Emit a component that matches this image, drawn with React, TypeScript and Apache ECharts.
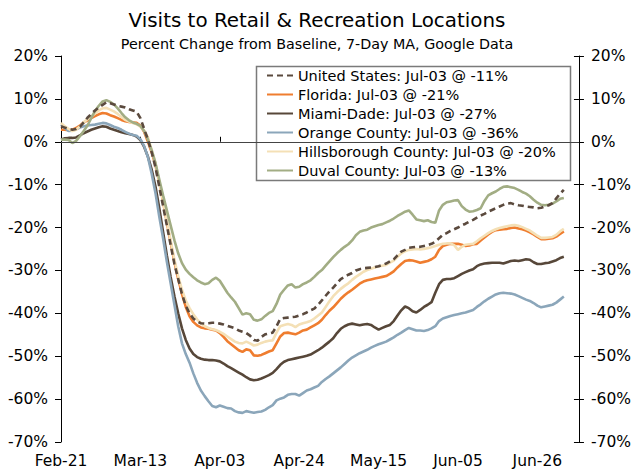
import React, { useEffect, useRef } from "react";
import * as echarts from "echarts";

const START = Date.UTC(2020, 1, 21);
const N_CATEGORIES = 138;
const MONTHS = ["Jan", "Feb", "Mar", "Apr", "May", "Jun", "Jul", "Aug", "Sep", "Oct", "Nov", "Dec"];
const categories: string[] = Array.from({ length: N_CATEGORIES }, (_, i) => {
  const d = new Date(START + i * 86400000);
  return `${MONTHS[d.getUTCMonth()]}-${String(d.getUTCDate()).padStart(2, "0")}`;
});

const unitedStates = [3.6,3.3,3.0,2.8,3.0,3.5,4.5,5.6,6.5,7.3,
 8.0,8.6,9.2,9.0,8.7,8.4,8.2,8.0,7.6,7.3,
 7.0,5.5,3.0,0.5,-2.5,-6.0,-10.5,-15.0,-19.5,-24.0,
 -28.5,-32.0,-35.5,-38.2,-40.0,-41.2,-41.9,-42.3,-42.4,-42.3,
 -42.2,-42.2,-42.4,-42.6,-42.9,-43.2,-43.5,-44.0,-44.3,-44.6,
 -45.2,-46.2,-46.4,-45.5,-44.9,-44.7,-44.5,-43.0,-41.3,-41.1,
 -41.0,-40.9,-40.8,-40.5,-40.2,-39.8,-39.3,-38.9,-38.0,-37.0,
 -35.9,-34.9,-34.0,-33.0,-32.0,-31.5,-31.0,-30.6,-30.0,-29.7,
 -29.5,-29.4,-29.3,-29.2,-29.0,-28.7,-28.4,-27.9,-27.4,-26.5,
 -25.6,-25.2,-24.7,-24.6,-24.5,-24.5,-24.3,-24.1,-23.8,-23.3,
 -22.5,-21.7,-21.3,-20.8,-20.4,-20.0,-19.5,-19.1,-18.6,-18.2,
 -17.7,-17.2,-16.8,-16.3,-15.9,-15.5,-15.1,-14.7,-14.4,-14.3,
 -14.6,-14.8,-14.9,-15.1,-15.2,-15.3,-15.5,-15.4,-15.1,-14.8,
 -14.3,-13.2,-12.1,-11.2];

const florida = [2.8,2.8,2.7,2.8,3.2,3.8,4.5,5.0,5.5,6.0,
 6.4,6.7,6.6,6.2,5.9,5.5,5.1,4.8,4.6,4.5,
 4.4,3.8,2.3,0.0,-2.5,-5.5,-9.5,-14.0,-18.8,-23.5,
 -28.0,-32.0,-35.5,-38.5,-40.7,-42.0,-42.8,-43.3,-43.5,-43.6,
 -43.8,-44.0,-44.6,-45.5,-46.5,-47.2,-47.9,-48.6,-49.0,-48.4,
 -48.6,-49.8,-49.9,-49.7,-49.3,-48.9,-48.6,-47.0,-45.4,-44.6,
 -44.5,-44.7,-44.9,-44.5,-44.0,-43.8,-43.3,-42.8,-42.3,-41.5,
 -40.4,-39.4,-38.6,-37.6,-36.6,-35.8,-35.1,-34.5,-33.8,-33.1,
 -32.6,-32.3,-32.1,-31.9,-31.7,-31.5,-31.3,-30.8,-30.2,-29.3,
 -28.5,-27.8,-27.6,-27.7,-27.9,-28.2,-28.0,-27.8,-27.4,-26.8,
 -25.2,-24.3,-24.0,-23.8,-23.8,-23.8,-24.0,-24.3,-24.2,-23.9,
 -23.8,-23.0,-22.3,-21.6,-21.0,-20.6,-20.5,-20.4,-20.3,-20.1,
 -20.0,-20.2,-20.4,-20.7,-21.1,-21.6,-22.2,-22.7,-22.7,-22.6,
 -22.5,-22.1,-21.5,-20.9];

const miamiDade = [0.5,0.8,0.9,0.9,1.0,1.5,2.0,2.4,2.8,3.1,
 3.4,3.6,3.5,3.1,2.8,2.5,2.2,2.0,1.8,1.6,
 1.2,0.4,-1.2,-3.5,-6.5,-10.5,-15.5,-21.0,-26.5,-31.5,
 -36.0,-40.0,-43.5,-46.2,-48.2,-49.5,-50.2,-50.6,-50.8,-50.9,
 -50.9,-51.0,-51.2,-51.7,-52.3,-52.8,-53.3,-53.8,-54.3,-54.9,
 -55.4,-55.6,-55.5,-55.2,-54.8,-54.4,-53.9,-53.0,-52.0,-51.3,
 -50.9,-50.7,-50.5,-50.3,-50.1,-49.9,-49.6,-49.1,-48.6,-48.0,
 -47.3,-46.6,-45.8,-44.6,-43.6,-43.0,-42.6,-42.4,-42.6,-42.8,
 -42.6,-42.5,-42.7,-43.3,-43.8,-43.4,-43.0,-42.7,-41.8,-40.5,
 -39.3,-38.4,-38.8,-39.5,-39.8,-39.2,-38.5,-38.0,-37.4,-35.2,
 -33.2,-32.2,-32.0,-32.0,-31.8,-31.3,-30.8,-30.4,-30.0,-29.7,
 -29.0,-28.6,-28.4,-28.3,-28.2,-28.2,-28.2,-28.4,-28.1,-27.8,
 -27.7,-27.8,-27.6,-27.4,-27.5,-28.1,-28.5,-28.5,-28.3,-28.2,
 -27.9,-27.6,-27.1,-26.8];

const orangeCounty = [4.0,3.2,2.5,2.6,2.9,3.3,3.6,3.8,3.9,4.0,
 4.2,4.4,4.3,3.9,3.5,3.2,2.8,2.3,1.9,1.6,
 1.4,0.6,-1.0,-3.6,-7.5,-12.0,-17.5,-22.5,-28.0,-33.0,
 -38.0,-43.0,-47.0,-49.5,-51.5,-54.0,-56.2,-58.0,-59.3,-60.5,
 -61.6,-61.9,-61.5,-61.8,-62.1,-62.2,-62.8,-63.1,-63.2,-62.8,
 -63.0,-63.2,-63.0,-62.9,-62.5,-61.9,-61.4,-60.3,-59.9,-59.6,
 -59.0,-58.8,-58.8,-59.2,-58.6,-58.0,-57.7,-57.3,-56.9,-56.0,
 -55.3,-54.7,-54.0,-53.3,-52.6,-51.8,-51.0,-50.3,-49.8,-49.3,
 -48.9,-48.5,-48.0,-47.6,-47.2,-46.9,-46.6,-46.1,-45.6,-45.0,
 -44.5,-43.9,-43.4,-43.7,-44.0,-44.0,-44.1,-43.9,-43.5,-43.0,
 -41.8,-41.2,-40.9,-40.6,-40.4,-40.2,-40.0,-39.8,-39.5,-39.2,
 -38.5,-37.9,-37.2,-36.6,-36.1,-35.6,-35.3,-35.2,-35.3,-35.4,
 -35.6,-36.0,-36.4,-36.8,-37.1,-37.6,-38.2,-38.6,-38.4,-38.2,
 -38.0,-37.5,-36.8,-36.1];

const hillsborough = [4.4,3.6,3.0,2.5,2.8,3.6,4.5,5.3,5.9,6.6,
 7.3,7.8,7.9,7.5,7.1,6.5,5.8,5.1,4.7,4.4,
 4.1,3.5,2.6,1.0,-2.0,-5.0,-9.5,-13.8,-18.5,-23.0,
 -27.5,-31.3,-34.5,-37.0,-38.8,-40.2,-41.4,-42.3,-43.0,-43.4,
 -43.7,-43.9,-44.3,-44.8,-45.4,-46.0,-46.6,-46.9,-47.0,-46.6,
 -47.0,-47.5,-47.3,-46.9,-46.6,-46.4,-46.3,-44.5,-43.0,-42.7,
 -42.5,-42.7,-43.2,-42.6,-42.3,-42.1,-41.8,-41.2,-40.5,-39.8,
 -38.5,-37.2,-36.0,-35.1,-34.3,-33.6,-33.0,-32.2,-31.5,-30.9,
 -30.3,-29.9,-29.6,-29.3,-29.1,-28.9,-28.7,-28.2,-27.7,-26.8,
 -26.0,-25.5,-25.2,-25.1,-25.0,-25.1,-25.0,-24.8,-24.6,-24.3,
 -24.0,-23.8,-23.7,-23.7,-24.1,-25.2,-24.5,-24.0,-23.9,-23.8,
 -23.2,-22.5,-21.9,-21.3,-20.8,-20.4,-20.1,-19.9,-19.7,-19.5,
 -19.4,-19.6,-19.9,-20.3,-20.7,-21.3,-21.9,-22.4,-22.4,-22.3,
 -22.2,-21.7,-20.9,-20.3];

const duval = [0.5,0.5,0.4,-0.3,0.2,1.3,2.5,3.8,5.5,7.2,
 8.4,9.4,9.7,9.3,8.7,7.8,6.7,5.7,5.0,4.5,
 4.2,3.7,2.5,0.5,-2.0,-5.0,-8.8,-12.5,-16.0,-19.5,
 -23.0,-26.0,-28.3,-29.8,-30.8,-31.6,-32.3,-32.8,-33.2,-33.0,
 -32.2,-31.7,-32.4,-33.8,-35.2,-36.3,-37.3,-38.8,-40.3,-40.0,
 -40.2,-41.5,-41.7,-41.4,-40.6,-39.9,-39.5,-37.8,-35.6,-34.5,
 -33.5,-33.2,-34.0,-33.8,-33.2,-32.8,-32.3,-31.5,-30.6,-29.9,
 -28.9,-27.9,-26.9,-26.0,-25.2,-24.5,-23.9,-23.0,-21.8,-21.0,
 -20.7,-20.5,-20.0,-19.7,-19.4,-19.2,-18.8,-18.4,-17.9,-17.3,
 -16.8,-16.3,-16.0,-17.0,-18.1,-18.3,-18.5,-18.3,-18.7,-18.9,
 -16.0,-14.7,-14.1,-13.9,-13.7,-13.6,-15.0,-15.8,-16.3,-16.2,
 -15.9,-15.5,-13.8,-12.5,-12.0,-11.6,-11.0,-10.5,-10.4,-10.6,
 -10.8,-11.2,-11.7,-12.1,-12.7,-13.5,-14.2,-14.7,-14.8,-14.7,
 -14.4,-13.9,-13.3,-13.1];

const seriesNames = ["United States", "Florida", "Miami-Dade", "Orange County", "Hillsborough County", "Duval County"];
const seriesData = [unitedStates, florida, miamiDade, orangeCounty, hillsborough, duval];
const seriesColors = ["#5b4a3e", "#ef7d2f", "#574739", "#8ba6ba", "#f4e0b6", "#a2ad84"];

const FONT = "DejaVu Sans";

export default function App() {
  const ref = useRef<HTMLDivElement>(null);
  useEffect(() => {
    if (!ref.current) return;
    const chart = echarts.init(ref.current, undefined, { renderer: "svg" });
    const yBase = { type: "value", min: -70, max: 20, interval: 10, splitLine: { show: false } };
    const option: any = {
      animation: false,
      backgroundColor: "#ffffff",
      title: {
        text: "Visits to Retail & Recreation Locations",
        subtext: "Percent Change from Baseline, 7-Day MA, Google Data",
        left: "center",
        top: 5,
        itemGap: 7,
        textStyle: { fontFamily: FONT, fontSize: 19.9, fontWeight: "normal", color: "#000" },
        subtextStyle: { fontFamily: FONT, fontSize: 14.3, color: "#000" },
      },
      grid: { left: 61, right: 55, top: 56, bottom: 30, containLabel: false },
      xAxis: {
        type: "category",
        data: categories,
        boundaryGap: false,
        axisLine: { lineStyle: { color: "#000", width: 1 } },
        axisTick: { inside: true, length: 5, interval: 20, lineStyle: { color: "#000" } },
        axisLabel: { interval: 20, margin: 11, fontFamily: FONT, fontSize: 15.5, color: "#000" },
        splitLine: { show: false },
      },
      yAxis: [
        {
          ...yBase,
          position: "left",
          axisLine: { show: true, lineStyle: { color: "#000", width: 1 } },
          axisTick: { show: true, length: 6, lineStyle: { color: "#000" } },
          axisLabel: { formatter: "{value}%", margin: 13, fontFamily: FONT, fontSize: 15.5, color: "#000" },
        },
        {
          ...yBase,
          position: "right",
          axisLine: { show: true, lineStyle: { color: "#000", width: 1 } },
          axisTick: { show: true, length: 5, lineStyle: { color: "#000" } },
          axisLabel: { formatter: "{value}%", margin: 12, fontFamily: FONT, fontSize: 15.5, color: "#000" },
        },
        {
          ...yBase,
          position: "right",
          axisLine: { show: false },
          axisTick: { show: true, inside: true, length: 5, lineStyle: { color: "#000" } },
          axisLabel: { show: false },
        },
      ],
      legend: {
        orient: "vertical",
        left: 257,
        top: 66,
        z: 6,
        padding: [2, 8, 2, 9],
        itemWidth: 26,
        itemHeight: 14,
        itemGap: 4,
        itemStyle: { opacity: 0 },
        textStyle: { fontFamily: FONT, fontSize: 14.5, color: "#000" },
        data: seriesNames,
        formatter: (name: string) => {
          const i = seriesNames.indexOf(name);
          const arr = seriesData[i];
          const last = arr[arr.length - 1];
          return `${name}: ${categories[arr.length - 1]} @ ${Math.round(last)}%`;
        },
      },
      graphic: [
        {
          type: "rect",
          z: 5,
          shape: { x: 256.5, y: 66.5, width: 314, height: 114 },
          style: { fill: "#ffffff", stroke: "#7a7a7a", lineWidth: 1.5 },
        },
      ],
      series: seriesNames.map((name, i) => ({
        name,
        type: "line",
        data: seriesData[i],
        symbol: "none",
        showSymbol: false,
        color: seriesColors[i],
        lineStyle: {
          color: seriesColors[i],
          width: 2.6,
          type: i === 0 ? [6, 4] : "solid",
        },
        z: i === 0 ? 3 : 2,
        markLine:
          i === 1
            ? {
                silent: true,
                symbol: ["none", "none"],
                label: { show: false },
                lineStyle: { color: "#444", width: 1, type: "solid" },
                data: [{ yAxis: 0 }],
              }
            : undefined,
      })),
    };
    chart.setOption(option);
    return () => chart.dispose();
  }, []);
  return <div ref={ref} style={{ width: 634, height: 472, position: "absolute", left: 0, top: 0 }} />;
}
